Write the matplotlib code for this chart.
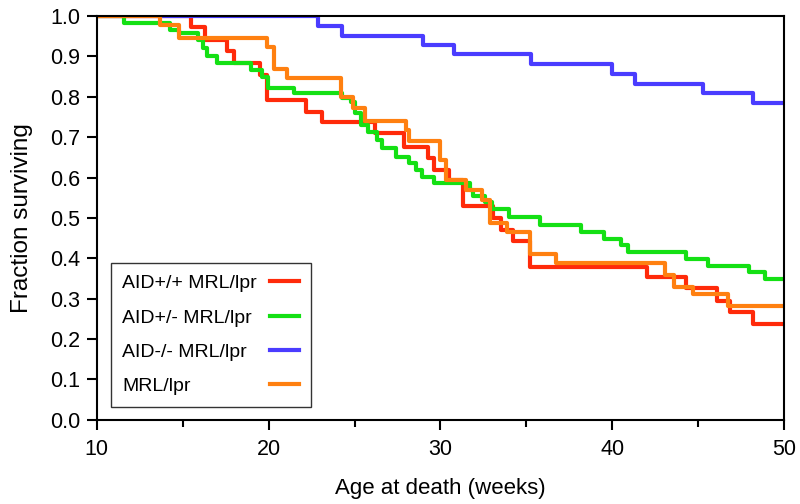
import matplotlib
matplotlib.use("Agg")
import matplotlib.pyplot as plt
from matplotlib.ticker import MultipleLocator

plt.rcParams['font.family'] = ['Liberation Sans', 'DejaVu Sans']

# survival curves (step changes, steps-post)
red_t = [10, 15.5, 16.3, 17.6, 18.0, 19.5, 19.9, 22.2, 23.1, 26.2, 27.9, 29.3, 29.6,
         30.5, 31.3, 33.05, 33.55, 34.2, 35.2, 42.0, 44.3, 46.1, 46.85, 48.2, 50]
red_s = [1.0, 0.973, 0.94, 0.914, 0.883, 0.854, 0.792, 0.763, 0.737, 0.711, 0.677, 0.648, 0.619,
         0.594, 0.530, 0.500, 0.470, 0.444, 0.378, 0.353, 0.326, 0.295, 0.266, 0.238, 0.238]

green_t = [10, 11.6, 14.25, 14.8, 15.9, 16.2, 16.4, 17.0, 19.0, 19.6, 19.95, 21.5, 24.3, 24.8,
           25.0, 25.4, 25.8, 26.3, 26.6, 27.4, 28.2, 28.6, 28.9, 29.6, 31.7, 31.9, 32.6, 33.0,
           34.0, 35.8, 38.2, 39.5, 40.5, 40.9, 44.3, 45.6, 47.95, 48.9, 50]
green_s = [1.0, 0.982, 0.965, 0.957, 0.94, 0.92, 0.90, 0.883, 0.866, 0.848, 0.823, 0.809, 0.797, 0.787,
           0.76, 0.73, 0.714, 0.693, 0.673, 0.652, 0.636, 0.619, 0.602, 0.587, 0.569, 0.554, 0.540, 0.522,
           0.502, 0.483, 0.465, 0.447, 0.433, 0.415, 0.398, 0.381, 0.365, 0.348, 0.348]

blue_t = [10, 22.9, 24.3, 29.0, 30.8, 35.3, 40.0, 41.3, 45.3, 48.2, 50]
blue_s = [1.0, 0.976, 0.952, 0.929, 0.905, 0.881, 0.857, 0.833, 0.810, 0.786, 0.786]

orange_t = [10, 13.7, 14.8, 19.9, 20.3, 21.1, 24.2, 24.9, 25.6, 28.0, 28.2, 30.0, 30.3, 31.5,
            32.4, 32.9, 33.9, 35.2, 36.75, 43.1, 43.6, 44.7, 46.75, 50]
orange_s = [1.0, 0.977, 0.946, 0.924, 0.869, 0.846, 0.800, 0.772, 0.741, 0.718, 0.691, 0.644, 0.594, 0.569,
            0.545, 0.488, 0.466, 0.411, 0.388, 0.359, 0.330, 0.311, 0.281, 0.281]

labels = ['AID+/+ MRL/lpr', 'AID+/- MRL/lpr', 'AID-/- MRL/lpr', 'MRL/lpr']
colors = ['#ff2a0a', '#14e014', '#4a3cff', '#ff8010']

fig = plt.figure(figsize=(8, 5.04), dpi=100)
ax = fig.add_axes([0.121, 0.167, 0.859, 0.801])

series = [(red_t, red_s), (green_t, green_s), (blue_t, blue_s), (orange_t, orange_s)]
for (t, s), lab, c in zip(series, labels, colors):
    ax.plot(t, s, drawstyle='steps-post', color=c, lw=3, label=lab)

ax.set_xlim(10, 50)
ax.set_ylim(0, 1.0)
ax.xaxis.set_major_locator(MultipleLocator(10))
ax.xaxis.set_minor_locator(MultipleLocator(5))
ax.yaxis.set_major_locator(MultipleLocator(0.1))
ax.yaxis.set_major_formatter(plt.FormatStrFormatter('%.1f'))
ax.tick_params(which='major', direction='out', length=7, width=1.5, labelsize=15.5)
ax.tick_params(which='minor', direction='out', length=5, width=1.5)
ax.tick_params(axis='x', pad=7)
ax.tick_params(axis='y', pad=5)
for sp in ax.spines.values():
    sp.set_linewidth(1.5)

ax.set_xlabel('Age at death (weeks)', fontsize=16, labelpad=13)
ax.set_ylabel('Fraction surviving', fontsize=17.5, labelpad=12)

leg = ax.legend(loc='lower left', bbox_to_anchor=(0.02, 0.032), borderaxespad=0,
                markerfirst=False, fontsize=14, frameon=True, fancybox=False,
                edgecolor='black', handlelength=1.5, labelspacing=0.86,
                borderpad=0.6, handletextpad=1.0)
leg.get_frame().set_linewidth(1.0)
# labels left-aligned, line samples pushed to the right edge
col = leg._legend_handle_box.get_children()[0]
for row in col.get_children():
    row.mode = 'expand'
col.width = 177

fig.savefig('out.png', dpi=100)
